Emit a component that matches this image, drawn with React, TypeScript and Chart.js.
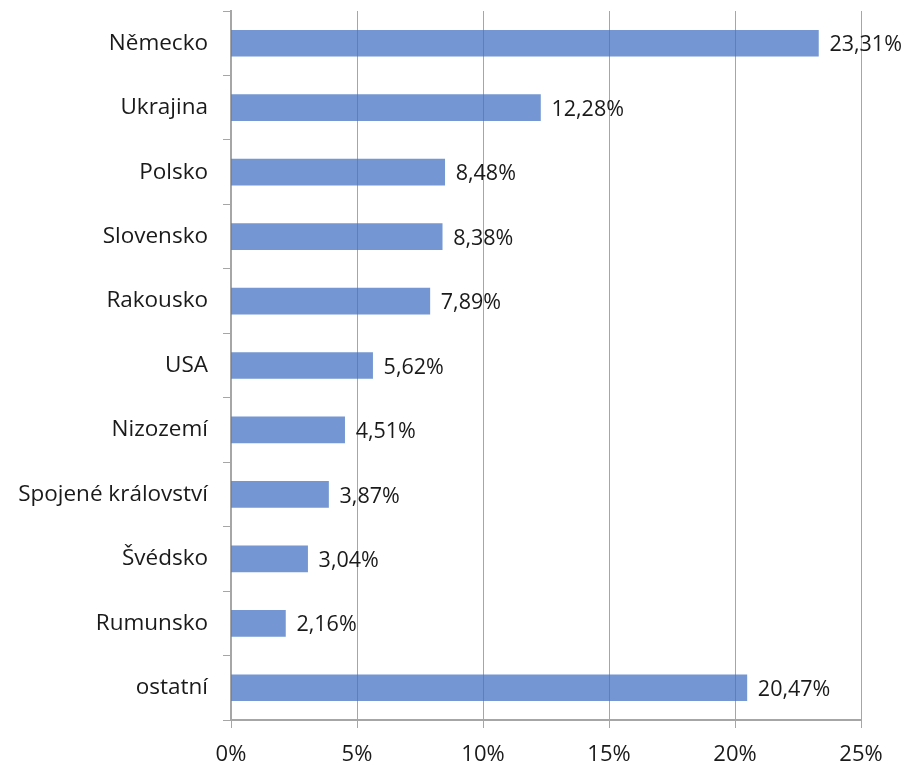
import React, { useEffect, useRef } from "react";
import { Chart, registerables } from "chart.js";

Chart.register(...registerables);

const categories = [
  "Německo",
  "Ukrajina",
  "Polsko",
  "Slovensko",
  "Rakousko",
  "USA",
  "Nizozemí",
  "Spojené království",
  "Švédsko",
  "Rumunsko",
  "ostatní",
];
const values = [23.31, 12.28, 8.48, 8.38, 7.89, 5.62, 4.51, 3.87, 3.04, 2.16, 20.47];
const xTicks = [0, 5, 10, 15, 20, 25];

const FONT = "'Open Sans', 'Noto Sans', sans-serif";

const fmt = (v: number) => v.toFixed(2).replace(".", ",") + "%";

const labelPlugin = {
  id: "barLabels",
  afterDatasetsDraw(chart: any) {
    const ctx = chart.ctx;
    const meta = chart.getDatasetMeta(0);
    ctx.save();
    ctx.font = `21.5px ${FONT}`;
    ctx.fillStyle = "#1a1a1a";
    ctx.textAlign = "left";
    ctx.textBaseline = "middle";
    meta.data.forEach((el: any, i: number) => {
      ctx.fillText(fmt(values[i]), el.x + 11, el.y + 2);
    });
    ctx.restore();
  },
};

export default function App() {
  const ref = useRef<HTMLCanvasElement>(null);
  useEffect(() => {
    if (!ref.current) return;
    const chart = new Chart(ref.current, {
      type: "bar",
      data: {
        labels: categories,
        datasets: [
          {
            data: values,
            backgroundColor: "rgba(68,114,196,0.74)",
            borderWidth: 0,
            barThickness: 26,
          },
        ],
      },
      options: {
        indexAxis: "y",
        animation: false,
        responsive: false,
        layout: { padding: { top: 11, right: 47, left: 0, bottom: 0 } },
        plugins: { legend: { display: false }, tooltip: { enabled: false } },
        scales: {
          x: {
            min: 0,
            max: 25,
            afterBuildTicks: (scale: any) => {
              scale.ticks = xTicks.map((v) => ({ value: v }));
            },
            afterFit: (scale: any) => {
              scale.height = 45;
              scale.paddingLeft = 0;
              scale.paddingRight = 0;
            },
            ticks: {
              callback: (v: any) => v + "%",
              font: { family: FONT, size: 22 },
              color: "#1a1a1a",
              padding: 14,
              maxRotation: 0,
            },
            grid: {
              color: "#a6a6a6",
              lineWidth: 1,
              tickLength: 8,
            },
            border: { color: "#a6a6a6", width: 2 },
          },
          y: {
            afterFit: (scale: any) => {
              scale.width = 231;
              scale.paddingTop = 0;
              scale.paddingBottom = 0;
            },
            ticks: {
              font: { family: FONT, size: 22.5 },
              color: "#1a1a1a",
              padding: 15,
            },
            grid: {
              drawOnChartArea: false,
              color: "#a6a6a6",
              tickLength: 8,
              offset: true,
            },
            border: { color: "#a6a6a6", width: 2 },
          },
        },
      },
      plugins: [labelPlugin],
    });
    return () => chart.destroy();
  }, []);
  return (
    <div style={{ position: "absolute", left: 0, top: 0, width: 908, height: 765, background: "#fff" }}>
      <canvas ref={ref} width={908} height={765} />
    </div>
  );
}
